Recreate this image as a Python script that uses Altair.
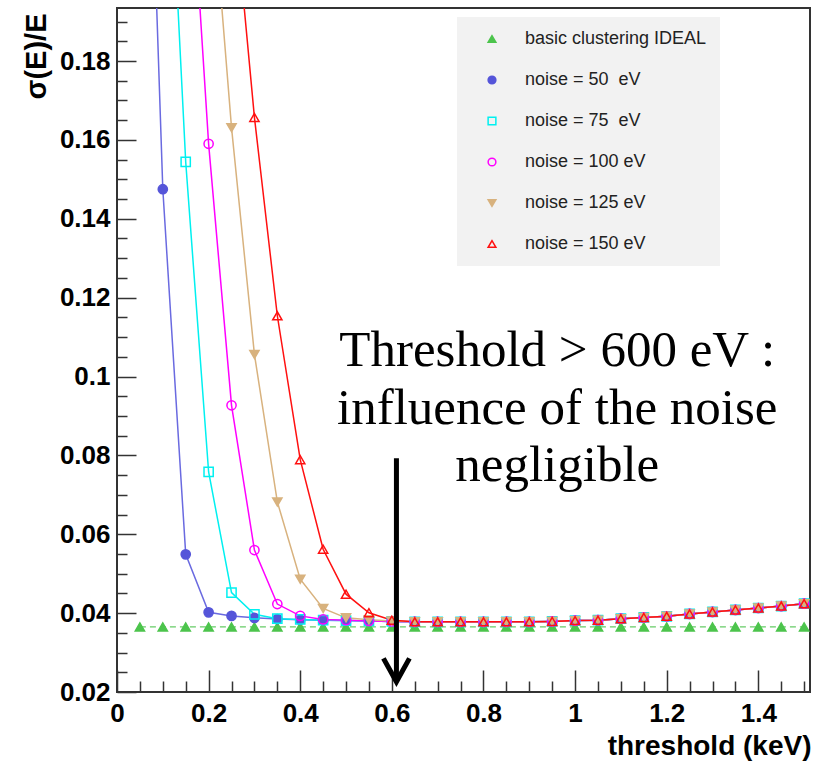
import altair as alt
import pandas as pd

# ---------------- data ----------------
threshold_x = [0.05, 0.10, 0.15, 0.20, 0.25, 0.30, 0.35, 0.40, 0.45, 0.50,
               0.55, 0.60, 0.65, 0.70, 0.75, 0.80, 0.85, 0.90, 0.95, 1.00,
               1.05, 1.10, 1.15, 1.20, 1.25, 1.30, 1.35, 1.40, 1.45, 1.50]

ideal_y = [0.0365, 0.0365, 0.0365, 0.0365, 0.0365, 0.0365, 0.0365, 0.0365, 0.0365, 0.0365,
           0.0365, 0.0365, 0.0365, 0.0365, 0.0365, 0.0365, 0.0365, 0.0365, 0.0365, 0.0365,
           0.0365, 0.0365, 0.0365, 0.0365, 0.0365, 0.0365, 0.0365, 0.0365, 0.0365, 0.0365]

noise50_y = [0.32, 0.1475, 0.0549, 0.0402, 0.0393, 0.0388, 0.0385, 0.0383, 0.0382, 0.0381,
             0.0380, 0.0379, 0.0378, 0.0378, 0.0378, 0.0378, 0.0378, 0.0378, 0.0379, 0.0381,
             0.0382, 0.0386, 0.0389, 0.0392, 0.0398, 0.0403, 0.0408, 0.0413, 0.0418, 0.0424]

noise75_y = [None, 0.27, 0.1544, 0.0758, 0.0452, 0.0397, 0.0386, 0.0384, 0.0382, 0.0381,
             0.0380, 0.0379, 0.0378, 0.0378, 0.0378, 0.0378, 0.0378, 0.0378, 0.0379, 0.0381,
             0.0382, 0.0386, 0.0389, 0.0392, 0.0398, 0.0403, 0.0408, 0.0413, 0.0418, 0.0424]

noise100_y = [None, None, 0.25, 0.159, 0.0927, 0.056, 0.0423, 0.0393, 0.0384, 0.0382,
              0.0380, 0.0379, 0.0378, 0.0378, 0.0378, 0.0378, 0.0378, 0.0378, 0.0379, 0.0381,
              0.0382, 0.0386, 0.0389, 0.0392, 0.0398, 0.0403, 0.0408, 0.0413, 0.0418, 0.0424]

noise125_y = [None, None, None, 0.235, 0.1631, 0.1056, 0.0682, 0.0486, 0.0412, 0.0388,
              0.0383, 0.0380, 0.0378, 0.0378, 0.0378, 0.0378, 0.0378, 0.0378, 0.0379, 0.0381,
              0.0382, 0.0386, 0.0389, 0.0392, 0.0398, 0.0403, 0.0408, 0.0413, 0.0418, 0.0424]

noise150_y = [None, None, None, None, 0.228, 0.1657, 0.1154, 0.0789, 0.0562, 0.0448,
              0.0401, 0.0382, 0.0378, 0.0378, 0.0378, 0.0378, 0.0378, 0.0378, 0.0379, 0.0381,
              0.0382, 0.0386, 0.0389, 0.0392, 0.0398, 0.0403, 0.0408, 0.0413, 0.0418, 0.0424]

series_names = ["basic clustering IDEAL",
                "noise = 50\u00a0 eV",
                "noise = 75\u00a0 eV",
                "noise = 100 eV",
                "noise = 125 eV",
                "noise = 150 eV"]
series_values = [ideal_y, noise50_y, noise75_y, noise100_y, noise125_y, noise150_y]
series_stroke = ["#4cc44c", "#5555d9", "#00f0f0", "#ff00ff", "#d8b27e", "#ff1010"]
series_line = ["#66cc66", "#6a6ae0", "#00f0f0", "#ff00ff", "#d8b27e", "#ff1010"]
series_fill = ["#4cc44c", "#5555d9", "transparent", "transparent", "#d8b27e", "transparent"]
series_shape = ["triangle-up", "circle", "square", "circle", "triangle-down", "triangle-up"]

x_major = [0, 0.2, 0.4, 0.6, 0.8, 1.0, 1.2, 1.4]
x_minor = [0.05, 0.1, 0.15, 0.25, 0.3, 0.35, 0.45, 0.5, 0.55, 0.65, 0.7, 0.75, 0.85,
           0.9, 0.95, 1.05, 1.1, 1.15, 1.25, 1.3, 1.35, 1.45, 1.5]
y_major = [0.02, 0.04, 0.06, 0.08, 0.10, 0.12, 0.14, 0.16, 0.18]
y_minor = [0.025, 0.03, 0.035, 0.045, 0.05, 0.055, 0.065, 0.07, 0.075, 0.085, 0.09,
           0.095, 0.105, 0.11, 0.115, 0.125, 0.13, 0.135, 0.145, 0.15, 0.155, 0.165,
           0.17, 0.175, 0.185, 0.19]

annotation_text = ["Threshold > 600 eV :\ninfluence of the noise\nnegligible"]
annotation_x = [0.961]
annotation_y = [0.1064]

arrow_x = [0.61]
arrow_top = [0.0793]
arrow_tip = [0.0226]

# ---------------- tables ----------------
rows = []
for k, (name, ys) in enumerate(zip(series_names, series_values)):
    for xv, yv in zip(threshold_x, ys):
        if yv is not None:
            rows.append({"series": name, "order": k, "x": xv, "y": yv})
df = pd.DataFrame(rows)

df_ann = pd.DataFrame({"x": annotation_x, "y": annotation_y, "t": annotation_text})
df_arrow = pd.DataFrame({"x": arrow_x, "y": arrow_top, "y2": arrow_tip})

XS = alt.Scale(domain=[0, 1.5128], nice=False, zero=False)
YS = alt.Scale(domain=[0.02, 0.19344], nice=False, zero=False)

FONT = "Liberation Sans"

x_major_axis = alt.Axis(
    values=x_major, format=".1~f", orient="bottom", offset=-22, tickSize=22,
    labelPadding=8, domain=False, grid=False, labelFont=FONT, labelFontSize=26,
    labelFontWeight="bold", labelColor="black", tickColor="#333", tickWidth=1.5,
    labelFlush=False, labelOverlap=False, labelBound=False,
    title="threshold (keV)", titleFont=FONT, titleFontSize=28, titleFontWeight="bold",
    titleColor="black", titleAnchor="end", titleAlign="right", titleX=694,
    titleY=84, titleBaseline="alphabetic")
y_major_axis = alt.Axis(
    values=y_major, format=".2~f", orient="left", offset=-19, tickSize=19,
    labelPadding=7, domain=False, grid=False, labelFont=FONT, labelFontSize=26,
    labelFontWeight="bold", labelColor="black", tickColor="#333", tickWidth=1.5,
    labelFlush=False, labelOverlap=False, labelBound=False,
    title="σ(E)/E", titleFont=FONT, titleFontSize=29, titleFontWeight="bold",
    titleColor="black", titleAngle=270, titleAnchor="end", titleAlign="right",
    titleBaseline="middle", titleX=-100, titleY=5)
x_minor_axis = alt.Axis(values=x_minor, orient="bottom", offset=-11, tickSize=11,
                        labels=False, domain=False, grid=False, title=None,
                        tickColor="#333", tickWidth=1.5)
y_minor_axis = alt.Axis(values=y_minor, orient="left", offset=-10, tickSize=10,
                        labels=False, domain=False, grid=False, title=None,
                        tickColor="#333", tickWidth=1.5)

layers = []
for k, name in enumerate(series_names):
    sub = df[df["order"] == k]
    if k == 0:
        ln = alt.Chart(sub).mark_line(clip=True, strokeDash=[6, 4], strokeWidth=1.3,
                                      color=series_line[k]).encode(
            x=alt.X("x:Q", scale=XS, axis=x_minor_axis),
            y=alt.Y("y:Q", scale=YS, axis=y_minor_axis),
        )
    else:
        ln = alt.Chart(sub).mark_line(clip=True, strokeWidth=1.5,
                                      color=series_line[k]).encode(
            x=alt.X("x:Q", scale=XS, axis=None),
            y=alt.Y("y:Q", scale=YS, axis=None),
        )
    layers.append(ln)

points = alt.Chart(df).mark_point(clip=True, size=85, strokeWidth=1.5, opacity=1,
                                  filled=False).encode(
    x=alt.X("x:Q", scale=XS, axis=x_major_axis),
    y=alt.Y("y:Q", scale=YS, axis=y_major_axis),
    stroke=alt.Stroke("series:N", scale=alt.Scale(domain=series_names, range=series_stroke),
                      legend=alt.Legend(title=None)),
    fill=alt.Fill("series:N", scale=alt.Scale(domain=series_names, range=series_fill),
                  legend=alt.Legend(title=None)),
    shape=alt.Shape("series:N", scale=alt.Scale(domain=series_names, range=series_shape),
                    legend=alt.Legend(title=None)),
)

arrow_shaft = alt.Chart(df_arrow).mark_rule(strokeWidth=5, color="black").encode(
    x=alt.X("x:Q", scale=XS, axis=None),
    y=alt.Y("y:Q", scale=YS, axis=None),
    y2="y2:Q",
)
arrow_head = alt.Chart(df_arrow).mark_point(
    shape="M-1,-1.8L0,0L1,-1.8", size=676, filled=False, strokeWidth=5,
    color="black", opacity=1, strokeJoin="miter"
).encode(
    x=alt.X("x:Q", scale=XS, axis=None),
    y=alt.Y("y2:Q", scale=YS, axis=None),
)

annotation = alt.Chart(df_ann).mark_text(
    font="Liberation Serif", fontSize=51, lineHeight=57.5, align="center",
    baseline="middle", lineBreak="\n", color="black"
).encode(
    x=alt.X("x:Q", scale=XS, axis=None),
    y=alt.Y("y:Q", scale=YS, axis=None),
    text="t:N",
)

chart = alt.layer(
    *layers, points, arrow_shaft, arrow_head, annotation
).resolve_axis(x="independent", y="independent").properties(
    width=693, height=684,
    background="white",
    autosize=alt.AutoSizeParams(type="none"),
    padding={"left": 117, "top": 8, "right": 10, "bottom": 71},
).configure_view(stroke="#333", strokeWidth=2).configure_legend(
    orient="none", legendX=340, legendY=9, fillColor="#f2f2f2", padding=13,
    rowPadding=23, symbolSize=60, symbolStrokeWidth=1.5, symbolOffset=13,
    labelOffset=24, labelFont=FONT, labelFontSize=18, labelColor="#222",
    labelLimit=400, titlePadding=0
)

chart.save("out.html", embed_options={"renderer": "svg", "actions": False})
